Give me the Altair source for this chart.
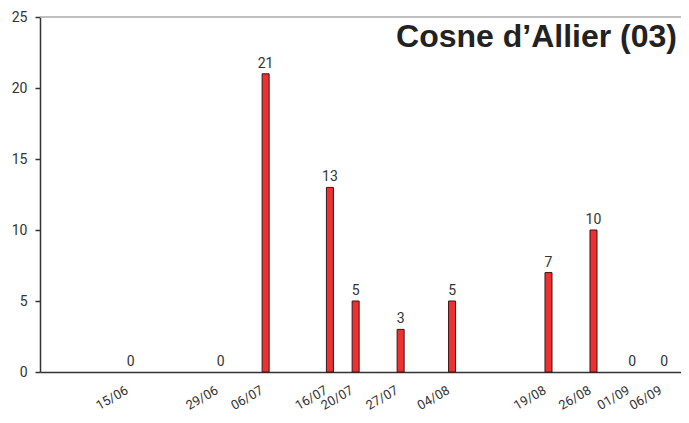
import altair as alt
import pandas as pd

dates = ["2021-06-15", "2021-06-29", "2021-07-06", "2021-07-16", "2021-07-20",
         "2021-07-27", "2021-08-04", "2021-08-19", "2021-08-26", "2021-09-01", "2021-09-06"]
values = [0, 0, 21, 13, 5, 3, 5, 7, 10, 0, 0]
title_text = "Cosne d\u2019Allier (03)"
y_ticks = [0, 5, 10, 15, 20, 25]

df = pd.DataFrame({"date": [d + "T00:00:00" for d in dates], "value": values})

tick_values = [alt.DateTime(year=int(d[:4]), month=int(d[5:7]), date=int(d[8:10])) for d in dates]

xscale = alt.Scale(domain=[alt.DateTime(year=2021, month=6, date=1, hours=16, minutes=20),
                           alt.DateTime(year=2021, month=9, date=7, hours=20)])
yscale = alt.Scale(domain=[0, 25], nice=False)

FONT = "Roboto"

x_enc = alt.X("date:T", scale=xscale,
              axis=alt.Axis(title=None, values=tick_values, format="%d/%m",
                            labelAngle=-30, labelAlign="right", labelBaseline="middle",
                            labelPadding=17, ticks=False, grid=False,
                            domainColor="#333", domainWidth=1.5,
                            labelFont=FONT, labelFontSize=13, labelColor="#333",
                            labelOverlap=False, labelOffset=-4))
y_enc = alt.Y("value:Q", scale=yscale,
              axis=alt.Axis(title=None, values=y_ticks, grid=False,
                            domainColor="#333", domainWidth=1.5,
                            tickColor="#333", tickWidth=1.5, tickSize=5,
                            labelPadding=8, labelFont=FONT, labelFontSize=14,
                            labelColor="#333"))

base = alt.Chart(df)

bars = base.mark_bar(size=7, fill="#ee3030", stroke="#3a1515", strokeWidth=1).encode(
    x=x_enc, y=y_enc).transform_filter("datum.value > 0")
labels = base.mark_text(dy=-3, fontSize=14, font=FONT, color="#333", baseline="bottom").encode(
    x="date:T", y="value:Q", text="value:Q")
top_rule = alt.Chart(pd.DataFrame({"v": [25]})).mark_rule(color="#aaaaaa", strokeWidth=1.5).encode(
    y="v:Q")
title = alt.Chart(pd.DataFrame({"t": [title_text]})).mark_text(
    align="right", baseline="alphabetic", fontSize=32, fontWeight="bold",
    font="Liberation Sans", color="#222").encode(
    text="t:N", x=alt.value(637), y=alt.value(30))

chart = alt.layer(top_rule, bars, labels, title).properties(
    width=641, height=355,
    autosize=alt.AutoSizeParams(type="none"),
    padding={"left": 32, "top": 9, "right": 0, "bottom": 42},
).configure_view(stroke=None)

chart.save("out.html", embed_options={"renderer": "svg", "actions": False})
